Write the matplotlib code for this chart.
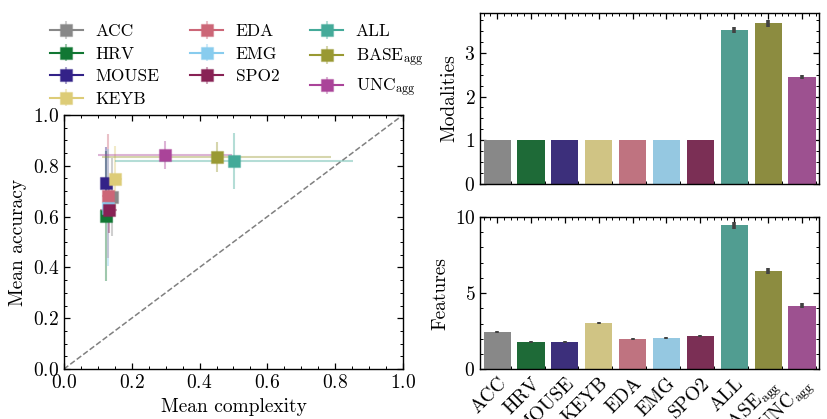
import colorsys

import numpy as np
import matplotlib
matplotlib.use("Agg")
import matplotlib.pyplot as plt
import matplotlib.colors as mcolors
from matplotlib.ticker import AutoMinorLocator, MultipleLocator

# データ
names = ["ACC", "HRV", "MOUSE", "KEYB", "EDA", "EMG", "SPO2", "ALL",
         r"BASE$_{\mathrm{agg}}$", r"UNC$_{\mathrm{agg}}$"]
colors = ["#888888", "#117733", "#332288", "#DDCC77", "#CC6677",
          "#88CCEE", "#882255", "#44AA99", "#999933", "#AA4499"]

complexity = [0.142, 0.124, 0.124, 0.150, 0.130, 0.130, 0.133, 0.501, 0.451, 0.298]
complexity_err = [0.015, 0.012, 0.015, 0.022, 0.018, 0.012, 0.025, 0.350, 0.337, 0.198]
accuracy = [0.677, 0.602, 0.732, 0.748, 0.681, 0.634, 0.626, 0.818, 0.835, 0.843]
accuracy_err = [0.155, 0.257, 0.140, 0.130, 0.245, 0.230, 0.090, 0.110, 0.060, 0.055]

modalities = [1, 1, 1, 1, 1, 1, 1, 3.52, 3.68, 2.45]
modalities_err = [0, 0, 0, 0, 0, 0, 0, 0.07, 0.08, 0.05]
features = [2.47, 1.78, 1.78, 3.04, 1.98, 2.05, 2.18, 9.45, 6.48, 4.17]
features_err = [0.07, 0.07, 0.07, 0.07, 0.07, 0.07, 0.07, 0.25, 0.20, 0.15]


def desaturate(c, prop=0.75):
    r, g, b = mcolors.to_rgb(c)
    h, l, s = colorsys.rgb_to_hls(r, g, b)
    return colorsys.hls_to_rgb(h, l, s * prop)


def style_axes(ax):
    ax.tick_params(which="both", direction="in", top=True, right=True)
    ax.tick_params(which="major", length=4, width=0.9)
    ax.tick_params(which="minor", length=2, width=0.7)
    for sp in ax.spines.values():
        sp.set_linewidth(1.0)


def main():
    plt.rcParams["font.family"] = "serif"
    plt.rcParams["font.serif"] = ["cmr10"]
    plt.rcParams["mathtext.fontset"] = "cm"
    plt.rcParams["axes.formatter.use_mathtext"] = True
    plt.rcParams["axes.unicode_minus"] = False
    plt.rcParams["font.size"] = 14

    fig = plt.figure(figsize=(8.28, 4.19), dpi=100)
    ax = fig.add_axes([0.077, 0.119, 0.410, 0.607])
    ax_m = fig.add_axes([0.580, 0.561, 0.409, 0.409])
    ax_f = fig.add_axes([0.580, 0.119, 0.409, 0.363])

    # 散布図
    ax.plot([0, 1], [0, 1], linestyle="--", color="gray", linewidth=1.1, zorder=1)
    for i, name in enumerate(names):
        c = colors[i]
        eb = ax.errorbar(complexity[i], accuracy[i],
                         xerr=complexity_err[i], yerr=accuracy_err[i],
                         fmt="s-", color=c, ecolor=c, elinewidth=1.5,
                         markersize=8, markeredgewidth=1.0,
                         markeredgecolor=mcolors.to_rgba(c, 0.4),
                         label=name, zorder=3)
        for coll in eb[2]:
            coll.set_alpha(0.4)
    ax.set_xlim(0, 1)
    ax.set_ylim(0, 1)
    ax.xaxis.set_major_locator(MultipleLocator(0.2))
    ax.yaxis.set_major_locator(MultipleLocator(0.2))
    ax.xaxis.set_minor_locator(AutoMinorLocator(4))
    ax.yaxis.set_minor_locator(AutoMinorLocator(4))
    ax.set_xlabel("Mean complexity")
    ax.set_ylabel("Mean accuracy")
    style_axes(ax)

    fig.legend(loc="upper left", bbox_to_anchor=(0.052, 0.960), ncol=3,
               frameon=False, borderaxespad=0, fontsize=12.5,
               handlelength=1.9, columnspacing=1.8,
               labelspacing=0.42, handletextpad=0.7)

    # 棒グラフ
    pos = np.arange(len(names))
    bar_colors = [desaturate(c) for c in colors]
    for a, vals, errs, lab in [(ax_m, modalities, modalities_err, "Modalities"),
                               (ax_f, features, features_err, "Features")]:
        a.bar(pos, vals, width=0.8, color=bar_colors, zorder=2)
        for p, v, e in zip(pos, vals, errs):
            if e > 0:
                a.plot([p, p], [v - e, v + e], color="#424242", linewidth=2.6,
                       solid_capstyle="butt", zorder=3)
        a.set_xlim(-0.5, len(names) - 0.5)
        a.set_xticks(pos)
        a.xaxis.set_minor_locator(AutoMinorLocator(5))
        a.set_ylabel(lab)
        style_axes(a)

    ax_m.set_ylim(0, 3.92)
    ax_m.yaxis.set_major_locator(MultipleLocator(1))
    ax_m.yaxis.set_minor_locator(AutoMinorLocator(4))
    ax_m.set_xticklabels([])

    ax_f.set_ylim(0, 10)
    ax_f.yaxis.set_major_locator(MultipleLocator(5))
    ax_f.yaxis.set_minor_locator(AutoMinorLocator(5))
    ax_f.set_xticklabels(names, rotation=45, ha="right", rotation_mode="anchor")

    fig.savefig("out.png", dpi=100)


if __name__ == "__main__":
    main()
